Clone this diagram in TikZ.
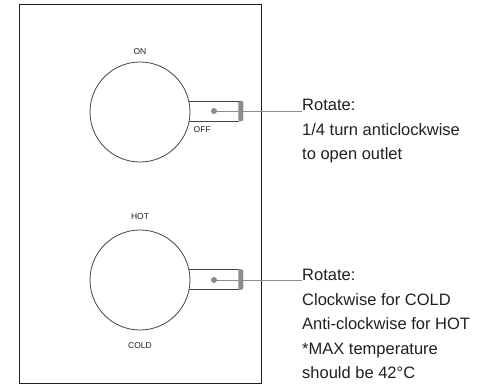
\documentclass[tikz,border=0pt]{standalone}
\usepackage{fontspec}
\setmainfont{Liberation Sans}
\usetikzlibrary{positioning}
\definecolor{ink}{HTML}{231F20}
\definecolor{lead}{HTML}{8C8C8C}

\begin{document}
\begin{tikzpicture}[
  x=1pt, y=-1pt,
  panel/.style={draw=ink, line width=0.9pt},
  knob/.style={draw=ink!85, circle, line width=0.8pt, minimum size=100pt, inner sep=0pt},
  knoblbl/.style={font=\fontsize{8.5}{10}\selectfont, text=ink, inner sep=0pt},
  lever/.style={draw=ink!85, line width=0.8pt},
  levercap/.style={fill=lead, draw=ink!60, line width=0.4pt, rounded corners=1.5pt},
  pin/.style={circle, fill=lead, minimum size=6pt, inner sep=0pt},
  leader/.style={draw=lead, line width=0.9pt},
  note/.style={font=\fontsize{16.5}{24.5}\selectfont, text=ink, align=left, anchor=north west, inner sep=0pt},
]
\useasboundingbox (0,0) rectangle (487,384);

% --- Panel ---
\draw[panel] (19,4.5) rectangle (261,383);

% --- Diverter knob ---
\node[knob] (divert) at (140,112) {};
\node[knoblbl] (on) at (140,51.5) {ON};
\node[knoblbl, anchor=west] (off) at (193.5,130) {OFF};
\coordinate (divA) at (188.8,101);
\coordinate (divB) at (188.8,121);
\draw[levercap] (238.5,101) rectangle (243,121);
\draw[lever] (divA) -- (239,101);
\draw[lever] (divB) -- (239,121);
\node[pin] (divpin) at (214,111) {};

% --- Temperature knob ---
\node[knob] (temp) at (140,280) {};
\node[knoblbl] (hot) at (140,217) {HOT};
\node[knoblbl] (cold) at (140,346) {COLD};
\coordinate (tmpA) at (188.8,269.5);
\coordinate (tmpB) at (188.8,289.5);
\draw[levercap] (238.5,269.5) rectangle (243,289.5);
\draw[lever] (tmpA) -- (239,269.5);
\draw[lever] (tmpB) -- (239,289.5);
\node[pin] (tmppin) at (214,280) {};

% --- Notes ---
\node[note] (divnote) at (302,99.2) {Rotate:\\1/4 turn anticlockwise\\to open outlet};
\node[note] (tmpnote) at (302,269.2) {Rotate:\\Clockwise for COLD\\Anti-clockwise for HOT\\*MAX temperature\\should be 42°C};

% --- Leaders ---
\draw[leader] (divpin.center) -- (divpin.center -| divnote.west);
\draw[leader] (tmppin.center) -- (tmppin.center -| tmpnote.west);
\end{tikzpicture}
\end{document}
